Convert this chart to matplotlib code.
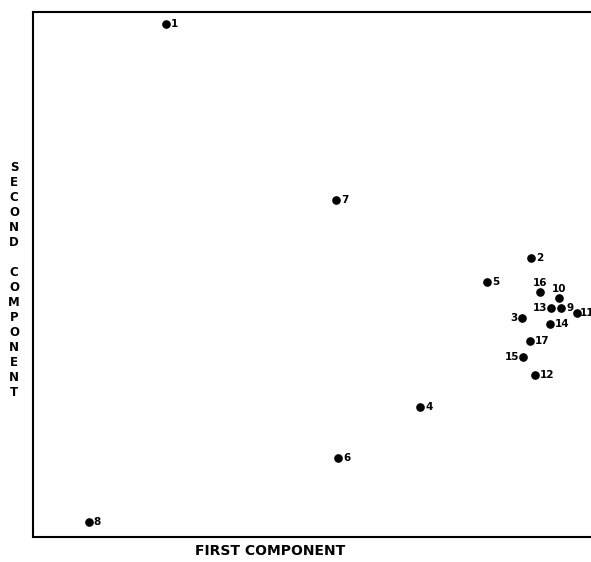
import matplotlib
matplotlib.use("Agg")
import matplotlib.pyplot as plt

# point ids and their component scores (arbitrary units)
ids = ["1", "2", "3", "4", "5", "6", "7", "8", "9", "10",
       "11", "12", "13", "14", "15", "16", "17"]
first = [23.8, 89.2, 87.6, 69.4, 81.4, 54.7, 54.3, 10.0, 94.7, 94.2,
         97.5, 90.0, 92.8, 92.7, 87.9, 90.8, 89.1]
second = [97.7, 53.2, 41.8, 24.8, 48.6, 15.0, 64.2, 2.9, 43.7, 45.6,
          42.7, 30.9, 43.7, 40.6, 34.2, 46.6, 37.4]

# where each label sits relative to its dot
left_labels = ["3", "13", "15"]
top_labels = ["10", "16"]


def main():
    fig = plt.figure(figsize=(5.91, 5.62), dpi=100)
    ax = fig.add_axes([0.0558, 0.0445, 0.9442, 0.9341])

    ax.plot(first, second, 'o', color='black', markersize=5.2)

    for name, x, y in zip(ids, first, second):
        if name in left_labels:
            off, ha, va = (-4, 0), 'right', 'center'
        elif name in top_labels:
            off, ha, va = (0, 4), 'center', 'bottom'
        elif name == "11":
            off, ha, va = (3, 0), 'left', 'center'
        else:
            off, ha, va = (5, 0), 'left', 'center'
        ax.annotate(name, (x, y), xytext=off, textcoords='offset pixels',
                    ha=ha, va=va, fontsize=7.5, fontweight='bold')

    ax.set_xlim(0, 100)
    ax.set_ylim(0, 100)
    ax.set_xticks([])
    ax.set_yticks([])
    ax.spines['right'].set_visible(False)
    for s in ['left', 'bottom', 'top']:
        ax.spines[s].set_linewidth(1.5)

    fig.text(0.457, 0.019, "FIRST COMPONENT", ha='center', va='center',
             fontsize=10, fontweight='bold')
    ylab = "\n".join("SECOND") + "\n\n" + "\n".join("COMPONENT")
    fig.text(0.024, 0.502, ylab, ha='center', va='center',
             fontsize=8.5, fontweight='bold', linespacing=1.2)

    fig.savefig("out.png", dpi=100)


if __name__ == "__main__":
    main()
